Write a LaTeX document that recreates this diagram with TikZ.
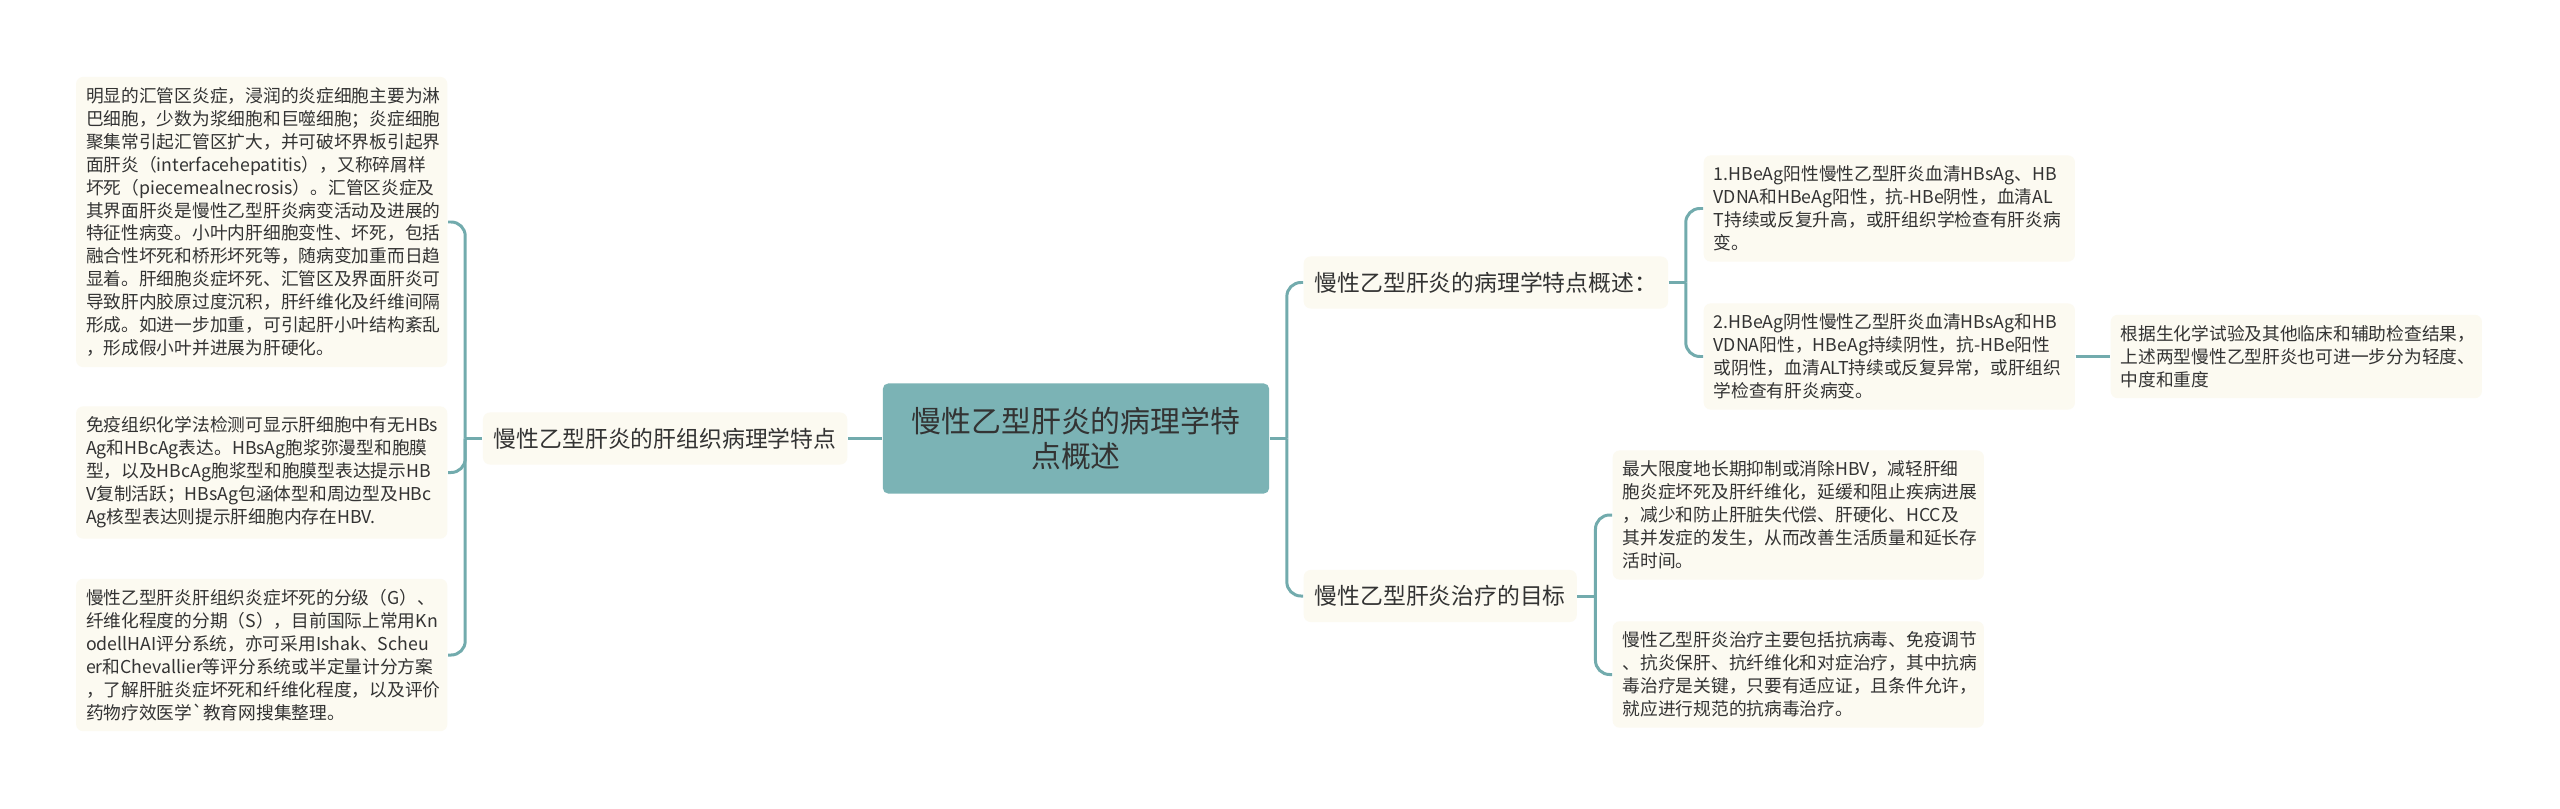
\documentclass[tikz,border=0pt]{standalone}
\usepackage{fontspec}
\newfontfamily\zhfont{Noto Sans CJK SC}
\definecolor{linecol}{HTML}{72ABAD}
\definecolor{rootfill}{HTML}{7BB3B5}
\definecolor{leaffill}{HTML}{FCFAF1}
\definecolor{inkgray}{HTML}{333333}
\tikzset{
    root/.style={fill=rootfill, rounded corners=1.5pt, minimum width=3.86cm, minimum height=1.1cm,
        align=center, text=inkgray, font=\zhfont\fontsize{8.5pt}{10pt}\selectfont},
    topic/.style={fill=leaffill, rounded corners=2pt, inner xsep=0.11cm, minimum height=0.52cm,
        text=inkgray, font=\zhfont\fontsize{6.49pt}{8pt}\selectfont},
    leaf/.style={fill=leaffill, rounded corners=2pt, text width=3.51cm, inner xsep=0.1cm, inner ysep=3pt,
        align=left, text=inkgray, font=\zhfont\fontsize{5.04pt}{6.52pt}\selectfont},
    link/.style={draw=linecol, line width=0.85pt, rounded corners=4pt}
}
\begin{document}
\begin{tikzpicture}[x=0.01cm, y=-0.01cm]
    \fill [white] (0,0) rectangle (2560,809);

    \node [root] (root) at (1076,438.5) {慢性乙型肝炎的病理学特\\点概述};

    \node [topic, anchor=east] (tissue) at (848,438.5) {慢性乙型肝炎的肝组织病理学特点};
    \node [topic, anchor=west] (summary) at (1303,282.5) {慢性乙型肝炎的病理学特点概述：};
    \node [topic, anchor=west] (goal) at (1303,596) {慢性乙型肝炎治疗的目标};

    \node [leaf, anchor=east] (histA) at (448,222) {明显的汇管区炎症，浸润的炎症细胞主要为淋\\巴细胞，少数为浆细胞和巨噬细胞；炎症细胞\\聚集常引起汇管区扩大，并可破坏界板引起界\\面肝炎（interfacehepatitis），又称碎屑样\\坏死（piecemealnecrosis）。汇管区炎症及\\其界面肝炎是慢性乙型肝炎病变活动及进展的\\特征性病变。小叶内肝细胞变性、坏死，包括\\融合性坏死和桥形坏死等，随病变加重而日趋\\显着。肝细胞炎症坏死、汇管区及界面肝炎可\\导致肝内胶原过度沉积，肝纤维化及纤维间隔\\形成。如进一步加重，可引起肝小叶结构紊乱\\，形成假小叶并进展为肝硬化。};
    \node [leaf, anchor=east] (histB) at (448,472.5) {免疫组织化学法检测可显示肝细胞中有无HBs\\Ag和HBcAg表达。HBsAg胞浆弥漫型和胞膜\\型，以及HBcAg胞浆型和胞膜型表达提示HB\\V复制活跃；HBsAg包涵体型和周边型及HBc\\Ag核型表达则提示肝细胞内存在HBV.};
    \node [leaf, anchor=east] (histC) at (448,655) {慢性乙型肝炎肝组织炎症坏死的分级（G）、\\纤维化程度的分期（S），目前国际上常用Kn\\odellHAI评分系统，亦可采用Ishak、Scheu\\er和Chevallier等评分系统或半定量计分方案\\，了解肝脏炎症坏死和纤维化程度，以及评价\\药物疗效医学\textasciigrave 教育网搜集整理。};

    \node [leaf, anchor=west] (typeA) at (1703,208.5) {1.HBeAg阳性慢性乙型肝炎血清HBsAg、HB\\VDNA和HBeAg阳性，抗-HBe阴性，血清AL\\T持续或反复升高，或肝组织学检查有肝炎病\\变。};
    \node [leaf, anchor=west] (typeB) at (1703,356.5) {2.HBeAg阴性慢性乙型肝炎血清HBsAg和HB\\VDNA阳性，HBeAg持续阴性，抗-HBe阳性\\或阴性，血清ALT持续或反复异常，或肝组织\\学检查有肝炎病变。};
    \node [leaf, anchor=west] (grade) at (2110,356.5) {根据生化学试验及其他临床和辅助检查结果，\\上述两型慢性乙型肝炎也可进一步分为轻度、\\中度和重度};
    \node [leaf, anchor=west] (goalA) at (1612,515) {最大限度地长期抑制或消除HBV，减轻肝细\\胞炎症坏死及肝纤维化，延缓和阻止疾病进展\\，减少和防止肝脏失代偿、肝硬化、HCC及\\其并发症的发生，从而改善生活质量和延长存\\活时间。};
    \node [leaf, anchor=west] (goalB) at (1612,674.5) {慢性乙型肝炎治疗主要包括抗病毒、免疫调节\\、抗炎保肝、抗纤维化和对症治疗，其中抗病\\毒治疗是关键，只要有适应证，且条件允许，\\就应进行规范的抗病毒治疗。};

    \draw [link] (root.west) -- (tissue.east);
    \draw [link] (tissue.west) -- ++(-17,0) coordinate (lb);
    \foreach \n in {histA,histB,histC}
        \draw [link] (lb) |- (\n.east);

    \draw [link] (root.east) -- ++(17,0) coordinate (rb);
    \foreach \n in {summary,goal}
        \draw [link] (rb) |- (\n.west);

    \draw [link] (summary.east) -- ++(17,0) coordinate (sb);
    \foreach \n in {typeA,typeB}
        \draw [link] (sb) |- (\n.west);
    \draw [link] (typeB.east) -- (grade.west);

    \draw [link] (goal.east) -- ++(18,0) coordinate (gb);
    \foreach \n in {goalA,goalB}
        \draw [link] (gb) |- (\n.west);
\end{tikzpicture}
\end{document}
